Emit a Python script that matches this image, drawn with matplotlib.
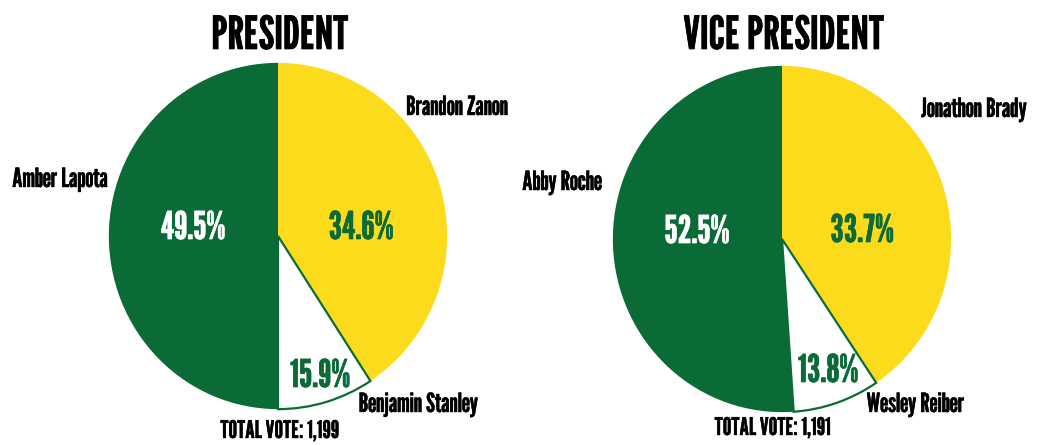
import matplotlib
matplotlib.use("Agg")
import matplotlib.pyplot as plt
import matplotlib.patheffects as pe

W, H = 1046, 445

GREEN = "#0b6b37"
YELLOW = "#fcdb1d"
FONT = "League Gothic"

# President race: order yellow, white, green (clockwise from the top)
pres_names = ["Brandon Zanon", "Benjamin Stanley", "Amber Lapota"]
pres_pct = ["34.6%", "15.9%", "49.5%"]
# wedge shares as drawn in the picture
pres_drawn = [40.8, 9.2, 50.0]
pres_total = "TOTAL VOTE: 1,199"

vp_names = ["Jonathon Brady", "Wesley Reiber", "Abby Roche"]
vp_pct = ["33.7%", "13.8%", "52.5%"]
vp_drawn = [40.6, 8.3, 51.1]
vp_total = "TOTAL VOTE: 1,191"

colors = [YELLOW, "white", GREEN]
pct_colors = [GREEN, GREEN, "white"]


def px(x, y):
    # pixel position (from top-left) -> figure fraction
    return x / W, 1 - y / H


def dibujar_pie(fig, caja, sizes):
    l, t, r, b = caja
    ax = fig.add_axes([l / W, 1 - b / H, (r - l) / W, (b - t) / H])
    wedges, _ = ax.pie(sizes, colors=colors, startangle=90, counterclock=False,
                       radius=1, wedgeprops=dict(linewidth=0))
    wedges[1].set_edgecolor(GREEN)
    wedges[1].set_linewidth(1.6)
    ax.set_aspect("auto")
    ax.set_xlim(-1.005, 1.005)
    ax.set_ylim(-1.005, 1.005)
    ax.axis("off")
    return ax


def texto(fig, x, y, s, size, color="black", grosor=0.3):
    fx, fy = px(x, y)
    fig.text(fx, fy, s, fontsize=size, family=FONT, color=color,
             ha="center", va="baseline",
             path_effects=[pe.withStroke(linewidth=grosor, foreground=color)])


fig = plt.figure(figsize=(W / 100, H / 100), dpi=100)
fig.patch.set_facecolor("white")

dibujar_pie(fig, (108, 62, 448, 410), pres_drawn)
dibujar_pie(fig, (612, 65, 952, 413), vp_drawn)

# titles
texto(fig, 280, 49, "PRESIDENT", 33, grosor=0.5)
texto(fig, 784, 49, "VICE PRESIDENT", 33, grosor=0.5)

# candidate names
texto(fig, 457, 115, pres_names[0], 19)
texto(fig, 418, 412, pres_names[1], 19)
texto(fig, 60, 187, pres_names[2], 19)
texto(fig, 974, 117, vp_names[0], 19)
texto(fig, 915, 412, vp_names[1], 19)
texto(fig, 562, 190, vp_names[2], 19)

# percentages
texto(fig, 361, 239, pres_pct[0], 27.5, pct_colors[0], 0.5)
texto(fig, 320, 387, pres_pct[1], 27.5, pct_colors[1], 0.5)
texto(fig, 193, 239, pres_pct[2], 27.5, pct_colors[2], 0.5)
texto(fig, 862, 242, vp_pct[0], 27.5, pct_colors[0], 0.5)
texto(fig, 828, 382, vp_pct[1], 27.5, pct_colors[1], 0.5)
texto(fig, 697, 243, vp_pct[2], 27.5, pct_colors[2], 0.5)

# totals
texto(fig, 280, 438, pres_total, 17.5)
texto(fig, 773, 435, vp_total, 17.5)

fig.savefig("out.png", dpi=100)
plt.close(fig)
